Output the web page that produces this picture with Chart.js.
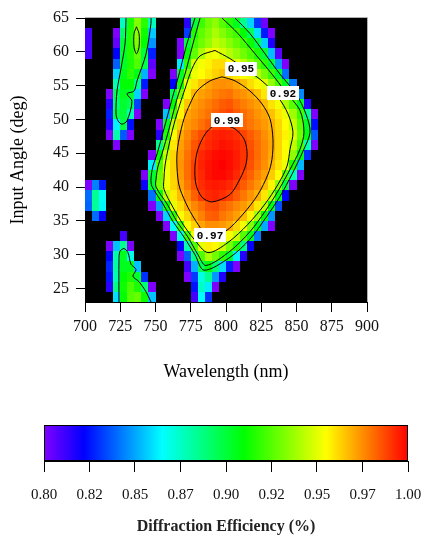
<!DOCTYPE html>
<html>
<head>
<meta charset="utf-8">
<script src="https://cdn.jsdelivr.net/npm/chart.js@4.4.1/dist/chart.umd.min.js"></script>
<style>
  body { margin: 0; background: #fff; }
  canvas { display: block; }
</style>
</head>
<body>
<canvas id="contourChart" width="423" height="390"></canvas>
<canvas id="colorBar" width="423" height="145"></canvas>
<script>
// cell centres of the efficiency map
const wavelengths = [702.5, 707.5, 712.5, 717.5, 722.5, 727.5, 732.5, 737.5, 742.5, 747.5,
  752.5, 757.5, 762.5, 767.5, 772.5, 777.5, 782.5, 787.5, 792.5, 797.5,
  802.5, 807.5, 812.5, 817.5, 822.5, 827.5, 832.5, 837.5, 842.5, 847.5,
  852.5, 857.5, 862.5, 867.5, 872.5, 877.5, 882.5, 887.5, 892.5, 897.5];
const angles = [64.25, 62.75, 61.25, 59.75, 58.25, 56.75, 55.25, 53.75, 52.25, 50.75,
  49.25, 47.75, 46.25, 44.75, 43.25, 41.75, 40.25, 38.75, 37.25, 35.75,
  34.25, 32.75, 31.25, 29.75, 28.25, 26.75, 25.25, 23.75];

// diffraction efficiency per cell (0 = below 0.80, drawn black)
const efficiency = [
  [0,0,0,0,0,.876,.914,.933,.917,.877,  0,0,0,0,.815,.90,.92,.93,.935,.925,  .917,.905,.886,.858,.831,.803,0,0,0,0,  0,0,0,0,0,0,0,0,0,0],
  [.81,0,0,0,.80,.892,.916,.935,.912,.856,  0,0,0,0,.832,.915,.926,.933,.94,.933,  .927,.921,.91,.894,.86,.826,.80,0,0,0,  0,0,0,0,0,0,0,0,0,0],
  [.81,0,0,0,.805,.90,.916,.932,.909,.847,  0,0,0,.80,.90,.921,.929,.936,.944,.94,  .934,.928,.922,.912,.897,.857,.817,0,0,0,  0,0,0,0,0,0,0,0,0,0],
  [.81,0,0,0,.822,.902,.916,.927,.90,.827,  0,0,0,.80,.909,.927,.94,.951,.953,.948,  .942,.936,.93,.923,.914,.90,.854,.807,0,0,  0,0,0,0,0,0,0,0,0,0],
  [0,0,0,0,.838,.903,.915,.924,.897,.806,  0,0,0,.862,.918,.948,.953,.957,.961,.961,  .955,.95,.943,.934,.926,.917,.901,.848,.80,0,  0,0,0,0,0,0,0,0,0,0],
  [0,0,0,0,.858,.906,.917,.906,.852,.80,  0,0,.80,.904,.932,.952,.955,.959,.963,.966,  .962,.958,.954,.951,.942,.931,.92,.903,.841,0,  0,0,0,0,0,0,0,0,0,0],
  [0,0,0,0,.879,.909,.91,.886,.826,0,  0,0,.822,.913,.951,.959,.965,.971,.974,.975,  .974,.971,.967,.961,.956,.95,.936,.922,.905,.842,  0,0,0,0,0,0,0,0,0,0],
  [0,0,0,.80,.896,.905,.902,.858,.80,0,  0,0,.895,.931,.957,.968,.972,.974,.977,.979,  .98,.976,.974,.971,.966,.959,.953,.941,.924,.907,  .845,0,0,0,0,0,0,0,0,0],
  [0,0,0,.815,.891,.902,.895,.833,0,0,  0,.80,.909,.95,.965,.972,.975,.978,.981,.984,  .985,.981,.978,.975,.972,.967,.96,.953,.941,.925,  .904,.816,0,0,0,0,0,0,0,0],
  [0,0,0,.827,.897,.90,.879,.80,0,0,  0,.855,.922,.957,.971,.974,.977,.98,.983,.986,  .988,.984,.981,.978,.974,.971,.966,.959,.952,.938,  .921,.886,.80,0,0,0,0,0,0,0],
  [0,0,0,.815,.863,.898,.824,0,0,0,  .80,.904,.944,.964,.973,.976,.98,.984,.988,.99,  .988,.985,.982,.979,.976,.973,.969,.962,.955,.945,  .927,.904,.824,0,0,0,0,0,0,0],
  [0,0,0,.80,.88,.837,.80,0,0,0,  .815,.915,.954,.97,.976,.982,.987,.992,.994,.995,  .994,.992,.988,.984,.98,.975,.97,.963,.957,.949,  .929,.907,.837,0,0,0,0,0,0,0],
  [0,0,0,0,.80,0,0,0,0,0,  .885,.93,.959,.972,.978,.985,.99,.993,.995,.997,  .996,.994,.991,.986,.981,.976,.971,.963,.955,.944,  .923,.879,.80,0,0,0,0,0,0,0],
  [0,0,0,0,0,0,0,0,0,.80,  .909,.945,.962,.973,.98,.987,.993,.996,.998,.999,  .998,.995,.991,.987,.981,.976,.97,.962,.954,.935,  .906,.83,0,0,0,0,0,0,0,0],
  [0,0,0,0,0,0,0,0,0,.862,  .923,.952,.963,.974,.981,.989,.994,.997,.999,1,  .998,.995,.991,.986,.98,.975,.968,.96,.952,.915,  .853,0,0,0,0,0,0,0,0,0],
  [0,0,0,0,0,0,0,0,.80,.902,  .929,.953,.963,.973,.981,.989,.993,.997,.999,.999,  .997,.993,.988,.983,.977,.972,.964,.955,.926,.879,  .80,0,0,0,0,0,0,0,0,0],
  [.80,.844,.826,0,0,0,0,0,.82,.902,  .932,.953,.962,.971,.979,.987,.992,.995,.996,.995,  .993,.989,.984,.979,.974,.967,.957,.935,.90,.80,  0,0,0,0,0,0,0,0,0,0],
  [.84,.884,.866,0,0,0,0,0,0,.841,  .907,.944,.958,.967,.975,.983,.99,.993,.994,.992,  .989,.984,.979,.974,.969,.959,.943,.906,.822,0,  0,0,0,0,0,0,0,0,0,0],
  [.839,.883,.864,0,0,0,0,0,0,.80,  .849,.912,.951,.961,.97,.976,.981,.986,.987,.983,  .98,.976,.973,.968,.959,.944,.907,.835,0,0,  0,0,0,0,0,0,0,0,0,0],
  [0,.84,.821,0,0,0,0,0,0,0,  .80,.858,.917,.954,.962,.971,.977,.983,.984,.979,  .976,.972,.967,.957,.938,.908,.847,0,0,0,  0,0,0,0,0,0,0,0,0,0],
  [0,0,0,0,0,0,0,0,0,0,  0,.80,.866,.92,.954,.963,.971,.975,.975,.973,  .97,.962,.953,.933,.907,.851,.80,0,0,0,  0,0,0,0,0,0,0,0,0,0],
  [0,0,0,0,0,.81,0,0,0,0,  0,0,.80,.871,.921,.954,.962,.969,.966,.96,  .954,.945,.925,.905,.843,0,0,0,0,0,  0,0,0,0,0,0,0,0,0,0],
  [0,0,0,.80,.855,.885,.80,0,0,0,  0,0,0,.821,.879,.924,.95,.958,.956,.946,  .931,.916,.889,.822,0,0,0,0,0,0,  0,0,0,0,0,0,0,0,0,0],
  [0,0,0,.822,.881,.905,.869,0,0,0,  0,0,0,.80,.838,.887,.924,.94,.93,.918,  .904,.863,.816,0,0,0,0,0,0,0,  0,0,0,0,0,0,0,0,0,0],
  [0,0,0,.828,.882,.905,.905,.855,0,0,  0,0,0,0,.81,.852,.895,.908,.891,.859,  .827,.80,0,0,0,0,0,0,0,0,  0,0,0,0,0,0,0,0,0,0],
  [0,0,0,.825,.88,.91,.915,.902,.83,0,  0,0,0,0,.80,.832,.87,.885,.848,.817,  0,0,0,0,0,0,0,0,0,0,  0,0,0,0,0,0,0,0,0,0],
  [0,0,0,.815,.888,.912,.923,.915,.89,.80,  0,0,0,0,0,.825,.875,.862,.80,0,  0,0,0,0,0,0,0,0,0,0,  0,0,0,0,0,0,0,0,0,0],
  [0,0,0,0,.86,.91,.925,.928,.912,.855,  0,0,0,0,0,.81,.865,.83,0,0,  0,0,0,0,0,0,0,0,0,0,  0,0,0,0,0,0,0,0,0,0]
];

// contour lines, [wavelength, angle]
const contour90 = [[778.0,65],[772.3,61.2],[766.7,56.7],[761.7,53.0],[756.0,48.6],[751.1,44.9],[748.2,43.1],[746.8,41.2],[747.5,40.1],[755.3,37.5],[762.4,34.9],[770.2,32.6],[778.0,30.0],[784.4,27.7],[802.8,29.6],[817.0,32.3],[828.4,35.5],[838.3,38.6],[846.8,41.9],[854.6,45.3],[859.6,48.1],[856.7,50.8],[849.6,53.8],[838.3,56.7],[827.7,59.7],[817.0,62.7],[806.4,65]];
const contour92 = [[781.6,65],[776.6,61.2],[770.9,56.7],[765.2,53.0],[759.6,48.6],[754.6,44.9],[751.8,43.1],[750.4,41.2],[750.4,40.0],[758.2,37.5],[765.2,34.9],[773.0,32.6],[780.1,30.0],[785.8,28.4],[802.8,30.5],[817.0,33.4],[827.7,36.4],[836.9,39.4],[845.4,42.6],[852.5,45.6],[855.3,48.1],[852.5,51.3],[841.8,54.2],[832.6,56.7],[820.6,59.7],[808.5,62.7],[797.2,65]];
const contour95 = [[792.2,60.2],[802.8,59.0],[813.5,57.5],[825.5,55.7],[836.9,53.3],[844.0,50.8],[847.5,48.1],[845.4,45.6],[843.3,43.1],[836.9,40.4],[827.7,37.5],[815.6,34.5],[801.4,31.8],[787.2,30.3],[777.3,32.3],[769.5,34.5],[762.4,37.0],[756.0,39.7],[756.0,41.2],[756.7,43.1],[758.9,45.6],[763.1,49.3],[767.4,52.3],[770.9,54.5],[775.9,57.5],[781.6,59.4],[792.2,60.2]];
const contour97 = [[797.2,56.3],[806.4,55.7],[817.0,54.2],[825.5,52.3],[831.2,50.1],[833.3,47.1],[832.6,44.1],[829.8,41.9],[822.7,38.9],[812.1,36.0],[799.3,33.4],[787.2,32.7],[780.1,34.5],[773.0,37.0],[767.4,39.7],[765.9,41.2],[765.2,43.1],[765.2,44.9],[766.7,47.1],[770.2,50.1],[774.5,52.3],[779.4,54.2],[788.7,55.7],[797.2,56.3]];
const contour99 = [[797.2,49.3],[806.4,48.6],[812.8,47.1],[814.9,45.3],[814.2,43.4],[809.9,41.2],[802.8,38.9],[790.1,37.8],[783.0,38.5],[778.7,40.4],[778.0,43.1],[780.1,45.6],[785.1,47.8],[790.8,49.0],[797.2,49.3]];
const stripeTop90 = [[729.1,65],[728.4,61.2],[725.5,57.5],[722.7,54.2],[722.0,50.8],[723.4,49.8],[726.2,49.3],[729.8,49.8],[733.3,52.7],[729.8,53.8],[734.8,54.2],[736.9,55.7],[743.3,59.7],[746.8,64.2],[746.8,65]];
const stripeTopInner = [[736.5,63.7],[738.3,62.7],[738.3,60.7],[736.5,59.7],[734.8,60.7],[734.8,62.7],[736.5,63.7]];
const stripeBottom90 = [[724.1,23],[724.1,29.3],[724.8,30.5],[727.7,30.9],[730.5,30.3],[732.6,28.6],[736.2,27.8],[734.0,26.8],[738.3,26.0],[743.3,24.5],[746.8,23]];
const contourLines = [contour90, contour92, contour95, contour97, contour99, stripeTop90, stripeTopInner, stripeBottom90];

const contourLabels = ['0.95', '0.92', '0.99', '0.97'];
const labelWavelengths = [810.6, 840.4, 800.7, 788.7];
const labelAngles = [57.5, 53.9, 49.9, 32.9];

const xTicks = [700, 725, 750, 775, 800, 825, 850, 875, 900];
const yTicks = [25, 30, 35, 40, 45, 50, 55, 60, 65];

// colour scale
const cmapValues = [0.80, 0.822, 0.865, 0.91, 0.955, 1.00];
const cmapColors = ['#8000ff', '#0000ff', '#00ffff', '#00ff00', '#ffff00', '#ff0000'];
const cbarTicks = [0.80, 0.825, 0.85, 0.875, 0.90, 0.925, 0.95, 0.975, 1.00];
const cbarLabels = ['0.80', '0.82', '0.85', '0.87', '0.90', '0.92', '0.95', '0.97', '1.00'];

Chart.defaults.font.family = '"Liberation Serif", "Times New Roman", serif';
Chart.defaults.color = '#111';

function hexRgb(h) {
    return [parseInt(h.slice(1, 3), 16), parseInt(h.slice(3, 5), 16), parseInt(h.slice(5, 7), 16)];
}

function effColor(v) {
    if (!(v >= cmapValues[0])) return '#000';
    for (let i = 1; i < cmapValues.length; i++) {
        if (v <= cmapValues[i]) {
            const t = (v - cmapValues[i - 1]) / (cmapValues[i] - cmapValues[i - 1]);
            const a = hexRgb(cmapColors[i - 1]);
            const b = hexRgb(cmapColors[i]);
            const c = a.map((ch, j) => Math.round(ch + (b[j] - ch) * t));
            return `rgb(${c[0]},${c[1]},${c[2]})`;
        }
    }
    return cmapColors[cmapColors.length - 1];
}

// fills the plot area with the efficiency cells
const heatmapPlugin = {
    id: 'heatmap',
    beforeDatasetsDraw(chart) {
        const { ctx, chartArea: area, scales: { x, y } } = chart;
        const halfW = (wavelengths[1] - wavelengths[0]) / 2;
        const halfH = (angles[0] - angles[1]) / 2;
        ctx.save();
        ctx.beginPath();
        ctx.rect(area.left, area.top, area.width, area.height);
        ctx.clip();
        ctx.fillStyle = '#000';
        ctx.fillRect(area.left, area.top, area.width, area.height);
        angles.forEach((ang, r) => {
            const y0 = Math.round(y.getPixelForValue(ang + halfH));
            const y1 = Math.round(y.getPixelForValue(ang - halfH));
            wavelengths.forEach((wl, c) => {
                const x0 = Math.round(x.getPixelForValue(wl - halfW));
                const x1 = Math.round(x.getPixelForValue(wl + halfW));
                ctx.fillStyle = effColor(efficiency[r][c]);
                ctx.fillRect(x0, y0, x1 - x0, y1 - y0);
            });
        });
        ctx.restore();
    },
    afterDatasetsDraw(chart) {
        const { ctx, chartArea: area, scales: { x, y } } = chart;
        ctx.save();
        ctx.font = 'bold 11px "Liberation Mono", "DejaVu Sans Mono", monospace';
        ctx.textAlign = 'center';
        ctx.textBaseline = 'middle';
        contourLabels.forEach((txt, i) => {
            const px = x.getPixelForValue(labelWavelengths[i]);
            const py = y.getPixelForValue(labelAngles[i]);
            const w = ctx.measureText(txt).width + 6;
            ctx.fillStyle = '#fff';
            ctx.fillRect(Math.round(px - w / 2), Math.round(py - 7), Math.round(w), 14);
            ctx.fillStyle = '#000';
            ctx.fillText(txt, px, py + 1);
        });
        // light frame on top and right
        ctx.strokeStyle = '#b0b0b0';
        ctx.lineWidth = 1;
        ctx.beginPath();
        ctx.moveTo(area.left, area.top - 0.5);
        ctx.lineTo(area.right + 0.5, area.top - 0.5);
        ctx.lineTo(area.right + 0.5, area.bottom);
        ctx.stroke();
        ctx.restore();
    }
};

new Chart(document.getElementById('contourChart'), {
    type: 'scatter',
    data: {
        datasets: contourLines.map(line => ({
            data: line.map(p => ({ x: p[0], y: p[1] })),
            showLine: true,
            borderColor: '#000',
            borderWidth: 1,
            pointRadius: 0,
            tension: 0.3,
            fill: false
        }))
    },
    options: {
        responsive: false,
        animation: false,
        layout: { padding: { top: 18, right: 56 } },
        plugins: { legend: { display: false }, tooltip: { enabled: false } },
        scales: {
            x: {
                type: 'linear', min: 700, max: 900,
                afterBuildTicks: s => { s.ticks = xTicks.map(v => ({ value: v })); },
                afterFit: s => { s.height = 88; },
                ticks: { font: { size: 16 }, padding: 5, maxRotation: 0 },
                grid: { drawOnChartArea: false, tickLength: 10, color: '#000' },
                border: { color: '#000' },
                title: { display: true, text: 'Wavelength (nm)', color: '#000', font: { size: 18 }, padding: { bottom: 7 } }
            },
            y: {
                type: 'linear', min: 23, max: 65,
                afterBuildTicks: s => { s.ticks = yTicks.map(v => ({ value: v })); },
                afterFit: s => { s.width = 85; },
                ticks: { font: { size: 16 }, padding: 7 },
                grid: { drawOnChartArea: false, tickLength: 9, color: '#000' },
                border: { color: '#000' },
                title: { display: true, text: 'Input Angle (deg)', color: '#000', font: { size: 18 }, padding: { top: 7 } }
            }
        }
    },
    plugins: [heatmapPlugin]
});

// colour bar
const colorBarPlugin = {
    id: 'colorBarFill',
    beforeDatasetsDraw(chart) {
        const { ctx, chartArea: area, scales: { x } } = chart;
        const lo = cmapValues[0], hi = cmapValues[cmapValues.length - 1];
        const x0 = x.getPixelForValue(lo), x1 = x.getPixelForValue(hi);
        const g = ctx.createLinearGradient(x0, 0, x1, 0);
        cmapValues.forEach((v, i) => g.addColorStop((v - lo) / (hi - lo), cmapColors[i]));
        ctx.save();
        ctx.fillStyle = g;
        ctx.fillRect(x0, area.top, x1 - x0, area.height);
        ctx.strokeStyle = '#000';
        ctx.lineWidth = 1;
        ctx.strokeRect(x0 + 0.5, area.top + 0.5, x1 - x0 - 1, area.height - 1);
        ctx.restore();
    }
};

new Chart(document.getElementById('colorBar'), {
    type: 'scatter',
    data: { datasets: [] },
    options: {
        responsive: false,
        animation: false,
        layout: { padding: { left: 44, right: 15, top: 35 } },
        plugins: { legend: { display: false }, tooltip: { enabled: false } },
        scales: {
            x: {
                type: 'linear', min: 0.80, max: 1.00,
                afterBuildTicks: s => { s.ticks = cbarTicks.map(v => ({ value: v })); },
                afterFit: s => { s.height = 74; s.paddingLeft = 0; s.paddingRight = 0; },
                ticks: { font: { size: 15 }, padding: 14, maxRotation: 0, callback: (v, i) => cbarLabels[i] },
                grid: { drawOnChartArea: false, tickLength: 11, color: '#000' },
                border: { color: '#000' },
                title: { display: true, text: 'Diffraction Efficiency (%)', color: '#222', font: { size: 16, weight: 'bold', lineHeight: 1 }, padding: { bottom: 0, top: 0 } }
            },
            y: { display: false, min: 0, max: 1 }
        }
    },
    plugins: [colorBarPlugin]
});
</script>
</body>
</html>
